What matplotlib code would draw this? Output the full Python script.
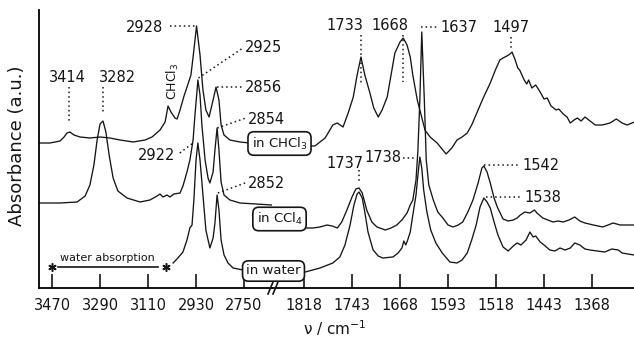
import matplotlib
matplotlib.use("Agg")
import matplotlib.pyplot as plt
from matplotlib.lines import Line2D

# ---------------- data (wavenumber in cm-1, absorbance in a.u., offset traces) -------------
# C-H stretching region (left panel)
chcl3_hi_wn = [3519, 3478, 3440, 3425, 3414, 3403, 3388, 3365, 3328, 3290, 3253, 3215, 3166,
               3121, 3095, 3065, 3046, 3035, 3024, 3009, 3001, 2990, 2975, 2960, 2949, 2938,
               2928, 2915, 2904, 2893, 2881, 2866, 2855, 2844, 2836, 2825, 2803, 2765, 2728, 2645]
chcl3_hi_abs = [145, 145, 147, 151, 155, 156, 153, 151, 150, 151, 150, 148, 146,
                148, 151, 158, 166, 182, 176, 170, 169, 178, 192, 204, 213, 238,
                262, 233, 198, 178, 171, 188, 201, 188, 163, 153, 148, 146, 145, 144]

ccl4_hi_wn = [3519, 3440, 3376, 3346, 3328, 3313, 3301, 3290, 3279, 3268, 3256, 3241, 3223,
              3189, 3140, 3103, 3076, 3065, 3054, 3039, 3028, 3013, 2990, 2979, 2964, 2953,
              2941, 2934, 2926, 2923, 2915, 2908, 2896, 2885, 2878, 2866, 2859, 2851, 2844,
              2836, 2825, 2803, 2765, 2645]
ccl4_hi_abs = [85, 85, 86, 92, 103, 123, 148, 164, 167, 156, 133, 110, 97,
               90, 86, 88, 92, 94, 91, 93, 91, 94, 95, 102, 116, 128,
               148, 173, 198, 208, 193, 163, 128, 110, 105, 116, 138, 160, 138,
               106, 93, 88, 85, 83]

water_hi_wn = [3016, 2998, 2979, 2964, 2953, 2945, 2938, 2930, 2923, 2915, 2904, 2893, 2878,
               2866, 2859, 2851, 2844, 2836, 2825, 2810, 2791, 2754, 2645]
water_hi_abs = [25, 30, 36, 48, 60, 63, 88, 128, 145, 128, 93, 58, 40,
                50, 65, 93, 78, 48, 33, 25, 20, 18, 17]

# Amide / fingerprint region (right panel)
chcl3_lo_wn = [1868, 1801, 1785, 1773, 1766, 1757, 1749, 1741, 1735, 1729, 1723, 1715, 1709,
               1702, 1696, 1688, 1682, 1676, 1668, 1663, 1657, 1652, 1648, 1641, 1637, 1629,
               1621, 1610, 1596, 1587, 1579, 1571, 1563, 1556, 1548, 1538, 1527, 1519, 1512,
               1507, 1501, 1496, 1493, 1488, 1484, 1481, 1474, 1470, 1467, 1462, 1456, 1449,
               1443, 1438, 1432, 1424, 1420, 1413, 1407, 1402, 1396, 1391, 1385, 1379, 1371,
               1363, 1352, 1340, 1330, 1321, 1313, 1302]
chcl3_lo_abs = [142, 142, 150, 163, 165, 161, 175, 191, 213, 231, 213, 195, 180,
                171, 178, 191, 213, 235, 246, 250, 243, 231, 213, 188, 178, 158,
                151, 145, 134, 140, 148, 151, 155, 163, 175, 190, 205, 218, 228,
                230, 232, 234, 236, 228, 220, 218, 208, 204, 208, 200, 203, 196,
                189, 190, 182, 178, 179, 174, 171, 165, 168, 170, 167, 171, 167,
                163, 163, 165, 169, 165, 163, 166]

ccl4_lo_wn = [1868, 1804, 1793, 1782, 1774, 1766, 1759, 1751, 1743, 1737, 1732, 1727, 1720,
              1712, 1704, 1691, 1682, 1673, 1665, 1657, 1652, 1648, 1643, 1640, 1637, 1634,
              1630, 1627, 1623, 1616, 1609, 1601, 1593, 1585, 1577, 1570, 1562, 1554, 1546,
              1540, 1537, 1532, 1527, 1521, 1516, 1507, 1499, 1491, 1485, 1480, 1473, 1465,
              1458, 1454, 1445, 1437, 1429, 1421, 1413, 1404, 1395, 1387, 1379, 1366, 1351,
              1343, 1335, 1324, 1302]
ccl4_lo_abs = [60, 60, 61, 63, 62, 60, 66, 78, 91, 99, 100, 95, 78,
               66, 61, 58, 60, 63, 68, 75, 83, 88, 108, 138, 188, 256,
               188, 128, 103, 88, 76, 70, 63, 61, 63, 66, 76, 88, 105,
               120, 122, 116, 105, 90, 81, 69, 67, 68, 70, 73, 76, 75,
               78, 75, 70, 68, 66, 67, 66, 68, 71, 67, 65, 63, 61,
               63, 65, 63, 63]

water_lo_wn = [1868, 1816, 1793, 1773, 1762, 1754, 1746, 1740, 1735, 1732, 1727, 1723, 1718,
               1710, 1702, 1695, 1679, 1671, 1665, 1662, 1659, 1656, 1652, 1648, 1643, 1640,
               1637, 1634, 1631, 1626, 1620, 1612, 1602, 1590, 1579, 1571, 1563, 1556, 1549,
               1543, 1537, 1532, 1527, 1521, 1515, 1507, 1499, 1491, 1485, 1479, 1471, 1465,
               1460, 1456, 1449, 1441, 1434, 1426, 1418, 1410, 1402, 1395, 1387, 1379, 1371,
               1360, 1348, 1337, 1327, 1321, 1312, 1302]
water_lo_abs = [15, 16, 20, 25, 31, 43, 63, 83, 94, 96, 90, 76, 56,
                38, 32, 30, 31, 35, 40, 47, 43, 48, 56, 73, 93, 113,
                131, 120, 98, 76, 58, 45, 35, 26, 25, 28, 35, 48, 63,
                81, 90, 86, 80, 66, 53, 41, 37, 42, 45, 43, 48, 56,
                51, 52, 46, 42, 38, 37, 40, 38, 40, 45, 43, 39, 38,
                37, 36, 39, 38, 35, 34, 33]

left_ticks = [3470, 3290, 3110, 2930, 2750]
right_ticks = [1818, 1743, 1668, 1593, 1518, 1443, 1368]

# peak labels: (text, x, y, ha) and dotted leader lines ((x0, x1), (y0, y1))
left_labels = [("3414", 3414, 211, "center"), ("3282", 3223, 211, "center"),
               ("2928", 3054, 261, "right"), ("2925", 2746, 241, "left"),
               ("2856", 2746, 201, "left"), ("2854", 2735, 169, "left"),
               ("2922", 3009, 133, "right"), ("2852", 2735, 105, "left")]
left_leaders = [((3406, 3406), (201, 165)), ((3279, 3279), (201, 176)),
                ((3028, 2930), (262, 262)), ((2921, 2754), (210, 240)),
                ((2853, 2754), (201, 201)), ((2850, 2743), (160, 170)),
                ((2991, 2941), (135, 145)), ((2848, 2746), (95, 105))]
right_labels = [("1733", 1754, 263, "center"), ("1668", 1684, 263, "center"),
                ("1637", 1605, 261, "left"), ("1497", 1495, 261, "center"),
                ("1737", 1754, 125, "center"), ("1738", 1695, 130, "center"),
                ("1542", 1477, 123, "left"), ("1538", 1474, 91, "left")]
right_leaders = [((1729, 1729), (253, 205)), ((1663, 1663), (253, 206)),
                 ((1635, 1609), (261, 261)), ((1495, 1495), (251, 238)),
                 ((1732, 1732), (118, 105)), ((1663, 1645), (130, 130)),
                 ((1537, 1480), (123, 123)), ((1534, 1477), (91, 91))]

# ---------------- figure ----------------
W, H = 634, 340
fig = plt.figure(figsize=(W / 100, H / 100), dpi=100)
ink = "#151515"

def fx(px):
    return px / W

def fy(py):
    return 1 - py / H

axL = fig.add_axes([fx(39), fy(288), fx(272) - fx(39), fy(10) - fy(288)])
axR = fig.add_axes([fx(272), fy(288), fx(634) - fx(272), fy(10) - fy(288)])

lw = 0.95
for ax in (axL, axR):
    ax.set_ylim(0, 278)
    ax.set_yticks([])
    for s in ("top", "right"):
        ax.spines[s].set_visible(False)
    ax.spines["bottom"].set_linewidth(1.3)
    ax.spines["left"].set_linewidth(1.3)
    ax.tick_params(axis="x", direction="in", length=10, width=1.2, labelsize=10.5,
                   pad=7, colors=ink)
    ax.patch.set_alpha(0)
axR.spines["left"].set_visible(False)

axL.set_xlim(3519, 2645)
axR.set_xlim(1868, 1302.4)
axL.set_xticks(left_ticks)
axR.set_xticks(right_ticks)

axL.plot(chcl3_hi_wn, chcl3_hi_abs, color=ink, lw=lw)
axL.plot(ccl4_hi_wn, ccl4_hi_abs, color=ink, lw=lw)
axL.plot(water_hi_wn, water_hi_abs, color=ink, lw=lw)
axR.plot(chcl3_lo_wn, chcl3_lo_abs, color=ink, lw=lw)
axR.plot(ccl4_lo_wn, ccl4_lo_abs, color=ink, lw=lw)
axR.plot(water_lo_wn, water_lo_abs, color=ink, lw=lw)

for ax, labels, leaders in ((axL, left_labels, left_leaders), (axR, right_labels, right_leaders)):
    for (t, x, y, ha) in labels:
        ax.text(x, y, t, ha=ha, va="center", fontsize=10.5, color=ink, clip_on=False)
    for (xs, ys) in leaders:
        ax.plot(xs, ys, ls=(0, (1, 2)), lw=1.1, color=ink, clip_on=False)

# CHCl3 solvent band label
axL.text(3016, 207, r"CHCl$_3$", rotation=90, ha="center", va="center", fontsize=9, color=ink)

# water absorption marker
axL.plot([3448, 3073], [21, 21], color=ink, lw=1.2)
axL.plot([3470, 3043], [21, 21], ls="none", marker=(6, 2, 0), ms=6, mew=1.1, color=ink)
axL.text(3264, 30, "water absorption", ha="center", va="center", fontsize=8, color=ink)

# solvent boxes
box = dict(boxstyle="round,pad=0.28,rounding_size=0.45", fc="white", ec=ink, lw=1.2)
fig.text(fx(279.5), fy(143.5), r"in CHCl$_3$", ha="center", va="center", fontsize=9.5,
         color=ink, bbox=box)
fig.text(fx(279.5), fy(219), r"in CCl$_4$", ha="center", va="center", fontsize=9.5,
         color=ink, bbox=box)
fig.text(fx(273.5), fy(271), "in water", ha="center", va="center", fontsize=9.5,
         color=ink, bbox=box)

# axis break marks
for dx in (0, 5):
    fig.add_artist(Line2D([fx(268 + dx), fx(273 + dx)], [fy(294), fy(282)], color=ink, lw=1.2))

# axis labels
fig.text(fx(17), fy(146), "Absorbance (a.u.)", rotation=90, ha="center", va="center",
         fontsize=13, color=ink)
fig.text(fx(335), fy(328), r"ν / cm$^{-1}$", ha="center", va="center", fontsize=11, color=ink)

fig.savefig("out.png", dpi=100)
